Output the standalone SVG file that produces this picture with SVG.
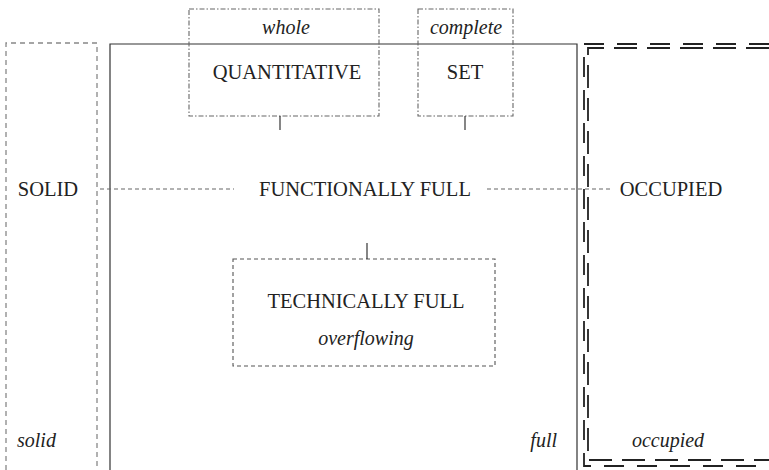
<svg xmlns="http://www.w3.org/2000/svg" width="769" height="470" viewBox="0 0 769 470">
  <style>
    .t { font-family: "Liberation Serif", "Times New Roman", serif; font-size: 20.5px; fill: #222; text-anchor: middle; }
    .i { font-style: italic; font-size: 20px; }
    .solidbox { fill: none; stroke: #333; stroke-width: 1.2; }
    .graydash { fill: none; stroke: #888; stroke-width: 1.3; stroke-dasharray: 5 4; }
    .dashdot { fill: none; stroke: #666; stroke-width: 1.1; stroke-dasharray: 5 2 1.5 2; }
    .fine { fill: none; stroke: #555; stroke-width: 1.1; stroke-dasharray: 4 3; }
    .link { fill: none; stroke: #222; stroke-width: 1.1; }
    .hdash { fill: none; stroke: #666; stroke-width: 1.1; stroke-dasharray: 4 3; }
    .outer { fill: none; stroke: #222; stroke-width: 1.8; stroke-dasharray: 20 13; }
    .inner { fill: none; stroke: #222; stroke-width: 1.8; stroke-dasharray: 23 10; }
  </style>

  <!-- left column: solid -->
  <g id="solid">
    <path class="graydash" d="M6,470 V43 H97 V470"/>
    <text class="t" x="48" y="196">SOLID</text>
    <text class="t i" x="17" y="447" style="text-anchor:start">solid</text>
  </g>

  <!-- central frame: functionally full -->
  <g id="functionally-full">
    <path class="solidbox" d="M110,470 V44 H577 V470"/>
    <text class="t" x="365" y="196">FUNCTIONALLY FULL</text>
    <text class="t i" x="557" y="447" style="text-anchor:end">full</text>
  </g>

  <g id="quantitative">
    <rect class="dashdot" x="189" y="9" width="190" height="107"/>
    <text class="t i" x="286" y="34">whole</text>
    <text class="t" x="287" y="79">QUANTITATIVE</text>
  </g>

  <g id="set">
    <rect class="dashdot" x="418" y="9" width="95" height="107"/>
    <text class="t i" x="466" y="34">complete</text>
    <text class="t" x="465" y="79">SET</text>
  </g>

  <g id="technically-full">
    <rect class="fine" x="233" y="259" width="262" height="107"/>
    <text class="t" x="366" y="308">TECHNICALLY FULL</text>
    <text class="t i" x="366" y="345">overflowing</text>
  </g>

  <!-- right column: occupied, double dashed frame -->
  <g id="occupied">
    <path class="outer" d="M769,44 H584 V466 H769"/>
    <path class="inner" d="M769,48 H588 V460 H769"/>
    <text class="t" x="671" y="196">OCCUPIED</text>
    <text class="t i" x="668" y="447">occupied</text>
  </g>

  <g id="connectors">
    <line class="link" x1="280" y1="116" x2="280" y2="130"/>
    <line class="link" x1="465" y1="116" x2="465" y2="130"/>
    <line class="link" x1="367" y1="243" x2="367" y2="259"/>
    <line class="hdash" x1="100" y1="189" x2="234" y2="189"/>
    <line class="hdash" x1="487" y1="189" x2="613" y2="189"/>
  </g>
</svg>
